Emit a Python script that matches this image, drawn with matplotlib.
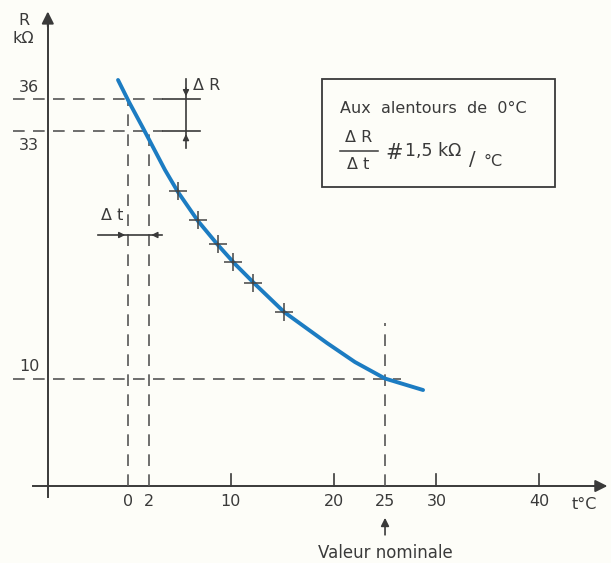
import matplotlib
matplotlib.use("Agg")
import matplotlib.pyplot as plt
from matplotlib.patches import Rectangle

# ---- data ----
curve_t = [-0.97, 0.10, 1.46, 3.60, 4.86, 6.81, 8.75, 10.41, 12.35, 15.18, 19.36, 22.08, 25.0, 28.7]
curve_R = [37.77, 35.72, 33.30, 29.40, 27.35, 24.65, 22.42, 20.65, 18.79, 16.19, 13.30, 11.53, 10.0, 8.93]
meas_t = [4.86, 6.8, 8.75, 10.2, 12.2, 15.2]
meas_R = [27.4, 24.7, 22.5, 20.8, 18.9, 16.2]
xticks = [0, 2, 10, 20, 25, 30, 40]
xtick_labels = ["0", "2", "10", "20", "25", "30", "40"]
yticks = [36, 33, 10]
yticks_labels = ["36", "33", "10"]
ref_t0, ref_t1, nominal_t = 0, 2, 25
ref_R0, ref_R1, nominal_R = 36, 33, 10

BG = "#fdfdf8"
INK = "#3a3a3a"
BLUE = "#1c7cc2"
FONT = "DejaVu Sans"

fig = plt.figure(figsize=(6.11, 5.63), dpi=100, facecolor=BG)
ax = fig.add_axes([0, 0, 1, 1])
ax.set_facecolor(BG)
ax.set_xlim(-12.45, 46.98)
ax.set_ylim(-7.16, 45.21)
ax.axis("off")

dash = dict(color="#555555", lw=1.2, dashes=(7, 5))
solid = dict(color=INK, lw=1.2)

# axes with arrows
ax.plot([-9.2, 46.0], [0, 0], color=INK, lw=1.4)
ax.annotate("", xy=(46.9, 0), xytext=(45.0, 0),
            arrowprops=dict(arrowstyle="-|>", color=INK, lw=1.4, mutation_scale=18))
ax.plot([-7.8, -7.8], [-1.0, 43.0], color=INK, lw=1.4)
ax.annotate("", xy=(-7.8, 44.4), xytext=(-7.8, 42.5),
            arrowprops=dict(arrowstyle="-|>", color=INK, lw=1.4, mutation_scale=18))

# x ticks and labels
for t, lab in zip(xticks, xtick_labels):
    if t not in (ref_t0, ref_t1, nominal_t):
        ax.plot([t, t], [0, 1.1], color=INK, lw=1.2)
    ax.text(t, -1.4, lab, ha="center", va="center", fontsize=11.5, color=INK, family=FONT)
ax.text(44.4, -1.7, "t°C", ha="center", va="center", fontsize=11.5, color=INK, family=FONT)

# y tick labels
ax.text(-9.6, ref_R0 + 1.1, yticks_labels[0], ha="center", va="center", fontsize=11.5, color=INK, family=FONT)
ax.text(-9.6, ref_R1 - 1.3, yticks_labels[1], ha="center", va="center", fontsize=11.5, color=INK, family=FONT)
ax.text(-9.6, nominal_R + 1.1, yticks_labels[2], ha="center", va="center", fontsize=11.5, color=INK, family=FONT)
ax.text(-10.1, 43.3, "R", ha="center", va="center", fontsize=11.5, color=INK, family=FONT)
ax.text(-10.2, 41.6, "kΩ", ha="center", va="center", fontsize=11.5, color=INK, family=FONT)

# dashed guide lines
ax.plot([-11.2, 3.4], [ref_R0, ref_R0], **dash)
ax.plot([3.4, 7.0], [ref_R0, ref_R0], **solid)
ax.plot([-11.2, 3.4], [ref_R1, ref_R1], **dash)
ax.plot([3.4, 7.0], [ref_R1, ref_R1], **solid)
ax.plot([-11.2, 26.6], [nominal_R, nominal_R], **dash)
ax.plot([ref_t0, ref_t0], [0, ref_R0], **dash)
ax.plot([ref_t1, ref_t1], [0, ref_R1], **dash)
ax.plot([nominal_t, nominal_t], [0, 15.2], **dash)

# Delta R indicator
xr = 5.64
ax.plot([xr, xr], [31.4, 37.9], **solid)
ax.annotate("", xy=(xr, ref_R0), xytext=(xr, 37.3),
            arrowprops=dict(arrowstyle="-|>", color=INK, lw=1.0, mutation_scale=9))
ax.annotate("", xy=(xr, ref_R1), xytext=(xr, 31.9),
            arrowprops=dict(arrowstyle="-|>", color=INK, lw=1.0, mutation_scale=9))
ax.text(6.3, 37.3, "Δ R", ha="left", va="center", fontsize=11.5, color=INK, family=FONT)

# Delta t indicator
yt = 23.35
ax.plot([-2.9, 3.3], [yt, yt], **solid)
ax.annotate("", xy=(ref_t0, yt), xytext=(-0.9, yt),
            arrowprops=dict(arrowstyle="-|>", color=INK, lw=1.0, mutation_scale=9))
ax.annotate("", xy=(ref_t1, yt), xytext=(2.9, yt),
            arrowprops=dict(arrowstyle="-|>", color=INK, lw=1.0, mutation_scale=9))
ax.text(-1.5, 25.2, "Δ t", ha="center", va="center", fontsize=11.5, color=INK, family=FONT)

# curve and measured points
ax.plot(curve_t, curve_R, color=BLUE, lw=2.8, solid_capstyle="round", solid_joinstyle="round", zorder=3)
ax.plot(meas_t, meas_R, linestyle="none", marker="+", markersize=13, markeredgewidth=1.1,
        color="#444444", zorder=4)

# nominal value arrow
ax.annotate("", xy=(nominal_t, -2.7), xytext=(nominal_t, -4.8),
            arrowprops=dict(arrowstyle="-|>", color=INK, lw=1.2, mutation_scale=12))
ax.text(nominal_t, -6.2, "Valeur nominale", ha="center", va="center", fontsize=12, color=INK, family=FONT)

# information box
ax.add_patch(Rectangle((18.9, 27.8), 22.6, 10.05, fill=False, edgecolor=INK, lw=1.3))
ax.text(20.6, 35.1, "Aux  alentours  de  0°C", ha="left", va="center", fontsize=11.5, color=INK, family=FONT)
ax.text(22.4, 32.4, "Δ R", ha="center", va="center", fontsize=11.5, color=INK, family=FONT)
ax.plot([20.6, 24.3], [31.2, 31.2], color=INK, lw=1.1)
ax.text(22.4, 29.9, "Δ t", ha="center", va="center", fontsize=11.5, color=INK, family=FONT)
ax.text(25.9, 31.0, "#", ha="center", va="center", fontsize=15, color=INK, family=FONT)
ax.text(26.9, 31.2, "1,5 kΩ", ha="left", va="center", fontsize=12.5, color=INK, family=FONT)
ax.text(33.5, 30.4, "/", ha="center", va="center", fontsize=14, color=INK, family=FONT)
ax.text(34.6, 30.2, "°C", ha="left", va="center", fontsize=11.5, color=INK, family=FONT)

fig.savefig("out.png", dpi=100, facecolor=BG)
